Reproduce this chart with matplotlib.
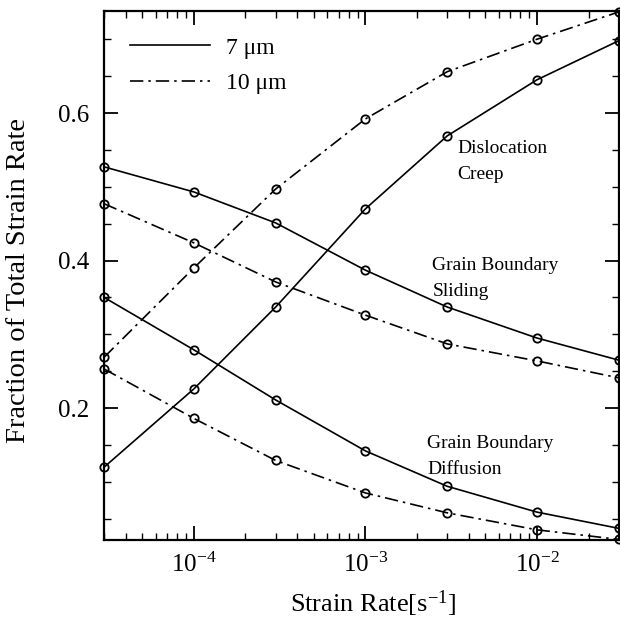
import math
import matplotlib
matplotlib.use("Agg")
import matplotlib.pyplot as plt
from matplotlib.ticker import LogLocator, MultipleLocator, FuncFormatter, NullFormatter

plt.rcParams['font.family'] = ['Liberation Serif', 'DejaVu Serif']
plt.rcParams['mathtext.fontset'] = 'custom'
plt.rcParams['mathtext.rm'] = 'Liberation Serif'
plt.rcParams['mathtext.it'] = 'Liberation Serif:italic'

# strain rate [1/s]
rate = [3e-5, 1e-4, 3e-4, 1e-3, 3e-3, 1e-2, 3e-2]

# fraction of total strain rate
creep_7 = [0.120, 0.226, 0.337, 0.470, 0.569, 0.645, 0.698]
creep_10 = [0.269, 0.390, 0.497, 0.592, 0.656, 0.700, 0.737]
gbs_7 = [0.527, 0.493, 0.451, 0.387, 0.337, 0.295, 0.265]
gbs_10 = [0.477, 0.424, 0.371, 0.326, 0.287, 0.264, 0.241]
gbd_7 = [0.350, 0.279, 0.211, 0.142, 0.094, 0.059, 0.037]
gbd_10 = [0.253, 0.186, 0.129, 0.085, 0.058, 0.035, 0.022]

fig = plt.figure(figsize=(6.2, 6.23), dpi=100)
ax = fig.add_axes([0.168, 0.133, 0.83, 0.849])

mk = dict(marker='o', markersize=6, markerfacecolor='none', markeredgecolor='black',
          markeredgewidth=1.3, color='black', lw=1.2, clip_on=False)
dashdot = (0, (8, 3, 1.5, 3))

ax.plot(rate, creep_7, ls='-', label='7 \u03bcm', **mk)
ax.plot(rate, creep_10, ls=dashdot, label='10 \u03bcm', **mk)
ax.plot(rate, gbs_7, ls='-', **mk)
ax.plot(rate, gbs_10, ls=dashdot, **mk)
ax.plot(rate, gbd_7, ls='-', **mk)
ax.plot(rate, gbd_10, ls=dashdot, **mk)

ax.set_xscale('log')
ax.set_xlim(3e-5, 3e-2)
ax.set_ylim(0.021, 0.738)

ax.xaxis.set_major_locator(LogLocator(base=10, numticks=10))
ax.xaxis.set_minor_locator(LogLocator(base=10, subs=range(2, 10), numticks=20))
ax.xaxis.set_minor_formatter(NullFormatter())
ax.xaxis.set_major_formatter(FuncFormatter(lambda v, p: r'$\mathregular{10^{%d}}$' % round(math.log10(v))))
ax.yaxis.set_major_locator(MultipleLocator(0.2))
ax.yaxis.set_minor_locator(MultipleLocator(0.05))
ax.yaxis.set_major_formatter(FuncFormatter(lambda v, p: '%.1f' % v))

ax.tick_params(which='both', direction='in', top=True, right=True, labelsize=18)
ax.tick_params(which='major', length=10, width=1.3)
ax.tick_params(which='minor', length=5, width=1.0)
ax.tick_params(axis='x', pad=9)
ax.tick_params(axis='y', pad=11)
for s in ax.spines.values():
    s.set_linewidth(1.6)

ax.set_xlabel('Strain Rate[s$\\mathregular{^{-1}}$]', fontsize=19, labelpad=8, x=0.522)
ax.set_ylabel('Fraction of Total Strain Rate', fontsize=20.5, labelpad=19, y=0.49)

ax.text(0.687, 0.756, 'Dislocation\nCreep', transform=ax.transAxes, fontsize=14,
        va='top', ha='left', linespacing=1.65)
ax.text(0.638, 0.535, 'Grain Boundary\nSliding', transform=ax.transAxes, fontsize=14,
        va='top', ha='left', linespacing=1.65)
ax.text(0.628, 0.198, 'Grain Boundary\nDiffusion', transform=ax.transAxes, fontsize=14,
        va='top', ha='left', linespacing=1.65)

leg = ax.legend(loc='upper left', frameon=False, fontsize=17, handlelength=3.4,
                handletextpad=0.65, labelspacing=0.6, borderaxespad=0.7)
for h in leg.legend_handles:
    h.set_marker('')

fig.savefig('out.png', dpi=100)
